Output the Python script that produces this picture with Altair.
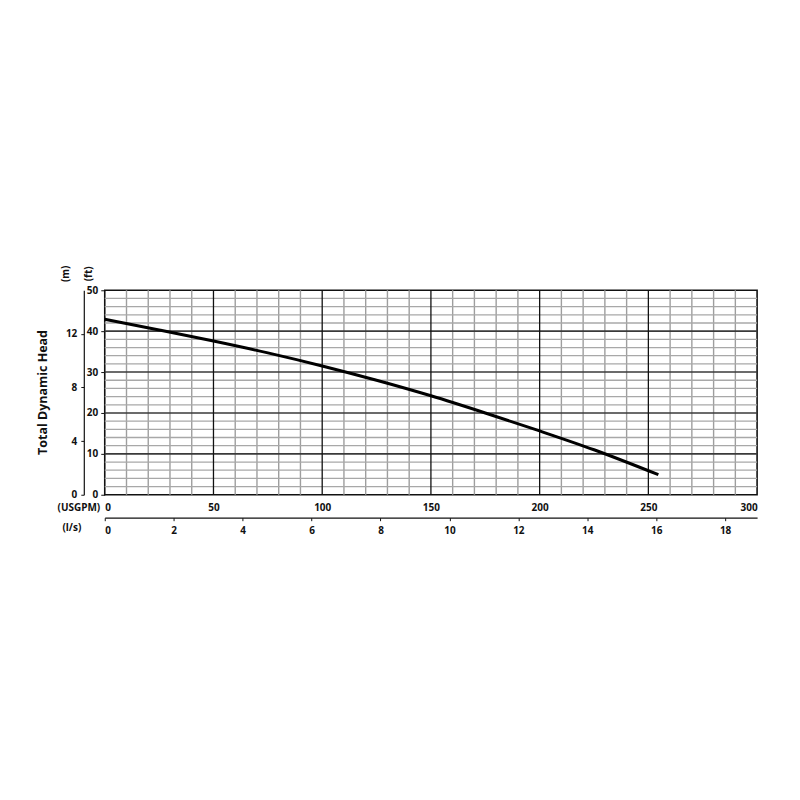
import altair as alt
import pandas as pd

# Pump curve: flow in USGPM, head in ft
flow_gpm = [0, 25, 50, 75, 100, 125, 150, 175, 200, 225, 254.6]
head_ft = [42.9, 40.3, 37.6, 34.7, 31.5, 28.0, 24.2, 20.0, 15.6, 11.0, 4.9]

# Axis tick values
gpm_ticks = [0, 50, 100, 150, 200, 250, 300]
ls_ticks = [0, 2, 4, 6, 8, 10, 12, 14, 16, 18]
ft_ticks = [0, 10, 20, 30, 40, 50]
m_ticks = [0, 4, 8, 12]

# Grid lines
v_minor = [q for q in range(10, 300, 10) if q % 50 != 0]
v_major = [50, 100, 150, 200, 250]
h_minor = [h for h in range(2, 50, 2) if h % 10 != 0]
h_major = [10, 20, 30, 40]

GPM_MAX = 300
FT_MAX = 50
LS_MAX = GPM_MAX / 15.850
M_MAX = FT_MAX * 0.3048

FONT = "Open Sans"

curve_df = pd.DataFrame({"gpm": flow_gpm, "ft": head_ft})

xs = alt.Scale(domain=[0, GPM_MAX], nice=False, zero=False)
ys = alt.Scale(domain=[0, FT_MAX], nice=False, zero=False)

x_axis = alt.Axis(values=gpm_ticks, grid=False, ticks=False, domain=False,
                  labelPadding=8, labelFontSize=10, labelFontWeight="bold",
                  labelFont=FONT, labelColor="#111",
                  title="(USGPM)", titleFont=FONT, titleFontSize=10,
                  titleFontWeight="bold", titleColor="#111",
                  titleAlign="right", titleBaseline="middle",
                  titleX=-5, titleY=13, titleAngle=0)
y_axis = alt.Axis(values=ft_ticks, grid=False, ticks=True, tickSize=4,
                  tickColor="#111", domain=False, labelPadding=3,
                  labelFontSize=10, labelFontWeight="bold", labelFont=FONT,
                  labelColor="#111",
                  title="(ft)", titleFont=FONT, titleFontSize=10,
                  titleFontWeight="bold", titleColor="#111",
                  titleAngle=270, titleAlign="center", titleBaseline="middle",
                  titleX=-16, titleY=-17)

X = alt.X("gpm:Q", scale=xs, axis=x_axis)
Y = alt.Y("ft:Q", scale=ys, axis=y_axis)

vmin = alt.Chart(pd.DataFrame({"gpm": v_minor})).mark_rule(
    color="#9e9e9e", strokeWidth=1.4).encode(x=X)
hmin = alt.Chart(pd.DataFrame({"ft": h_minor})).mark_rule(
    color="#a8a8a8", strokeWidth=1.3).encode(y=Y)
hmaj = alt.Chart(pd.DataFrame({"ft": h_major})).mark_rule(
    color="#3a3a3a", strokeWidth=1.6).encode(y=Y)
vmaj = alt.Chart(pd.DataFrame({"gpm": v_major})).mark_rule(
    color="#111", strokeWidth=1.3).encode(x=X)
curve = alt.Chart(curve_df).mark_line(
    color="black", strokeWidth=3, interpolate="monotone").encode(x=X, y=Y)

label = alt.Chart(pd.DataFrame({"t": ["Total Dynamic Head"]})).mark_text(
    angle=270, font=FONT, fontSize=12.5, fontWeight="bold", color="#111",
    align="center", baseline="middle").encode(
    text="t:N", x=alt.value(-62), y=alt.value(102.5))

main = alt.layer(vmin, hmin, hmaj, vmaj, curve, label)

aux_df = pd.DataFrame({"ls": [0, LS_MAX], "m": [0, M_MAX]})
aux = alt.Chart(aux_df).mark_point(opacity=0).encode(
    x=alt.X("ls:Q", scale=alt.Scale(domain=[0, LS_MAX], nice=False, zero=False),
            axis=alt.Axis(orient="bottom", offset=23, values=ls_ticks,
                          grid=False, domain=True, domainColor="#111",
                          domainWidth=1.2, ticks=True, tickSize=3,
                          tickColor="#111", labelPadding=5,
                          labelFontSize=10, labelFontWeight="bold",
                          labelFont=FONT, labelColor="#111",
                          title="(l/s)", titleFont=FONT, titleFontSize=10,
                          titleFontWeight="bold", titleColor="#111",
                          titleAlign="right", titleBaseline="middle",
                          titleX=-24, titleY=10, titleAngle=0)),
    y=alt.Y("m:Q", scale=alt.Scale(domain=[0, M_MAX], nice=False, zero=False),
            axis=alt.Axis(orient="left", offset=21, values=m_ticks,
                          grid=False, domain=True, domainColor="#111",
                          domainWidth=1.2, ticks=True, tickSize=3,
                          tickColor="#111", labelPadding=4,
                          labelFontSize=10, labelFontWeight="bold",
                          labelFont=FONT, labelColor="#111",
                          title="(m)", titleFont=FONT, titleFontSize=10,
                          titleFontWeight="bold", titleColor="#111",
                          titleAngle=270, titleAlign="center",
                          titleBaseline="middle",
                          titleX=-18, titleY=-17)),
)

chart = alt.layer(main, aux).resolve_scale(x="independent", y="independent").properties(
    width=654, height=205,
    autosize=alt.AutoSizeParams(type="none"),
    padding={"left": 97, "top": 282, "right": 35, "bottom": 290},
    background="white",
).configure_view(stroke="#111", strokeWidth=1.6)

chart.save("out.html", embed_options={"renderer": "svg", "actions": False})
